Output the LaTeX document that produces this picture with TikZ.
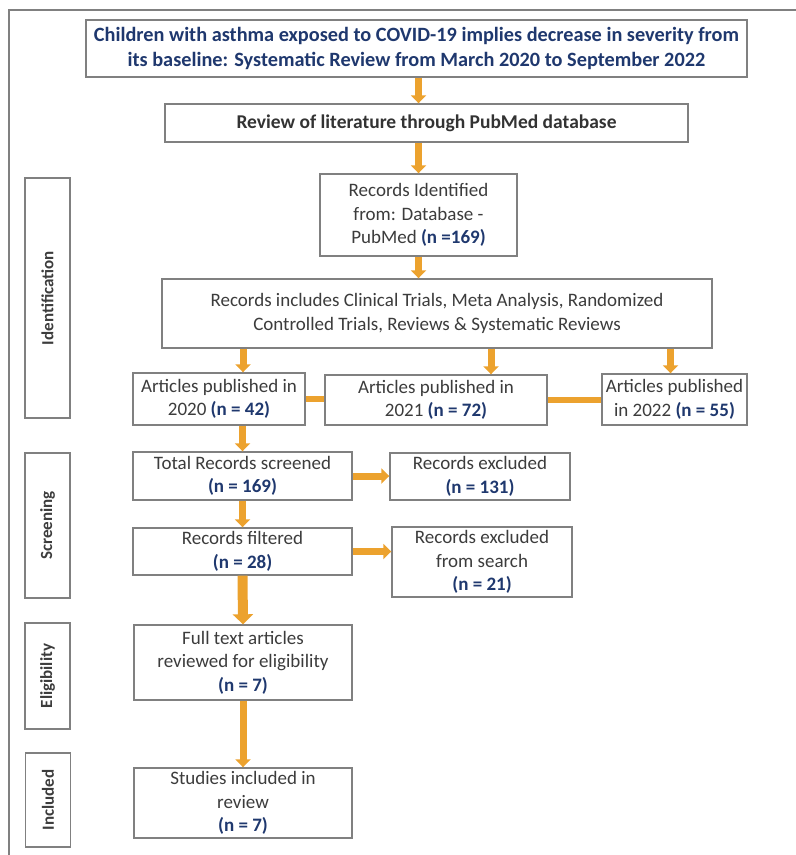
\documentclass[tikz,border=0pt]{standalone}
\usepackage{fontspec}
\setmainfont{Carlito}
\usetikzlibrary{arrows.meta}
\definecolor{arrorange}{RGB}{236,162,46}
\definecolor{boxgray}{RGB}{128,128,128}
\definecolor{txtgray}{RGB}{60,60,60}
\definecolor{nblue}{RGB}{31,56,110}
\newcommand{\nval}[1]{\textcolor{nblue}{\textbf{#1}}}

\begin{document}
\begin{tikzpicture}[
    x=1pt, y=-1pt,
    font=\fontsize{19}{23.5}\selectfont,
    box/.style={draw=boxgray, line width=1.4pt, fill=white, align=center, text=txtgray, inner sep=2pt},
    headbox/.style={box, font=\fontsize{19.5}{25}\selectfont\bfseries},
    phase/.style={draw=boxgray, line width=1.4pt, rotate=90, minimum height=45pt,
        font=\fontsize{17}{18}\selectfont\bfseries, text=txtgray},
    arr/.style={draw=arrorange, line width=7pt, -{Triangle[width=15pt,length=8pt]}},
    bigarr/.style={draw=arrorange, line width=10pt, -{Triangle[width=20pt,length=10pt]}},
    link/.style={draw=arrorange, line width=6pt}
]
\useasboundingbox (0,0) rectangle (796,855);

% Frame
\draw[boxgray, line width=2pt] (796,10) -- (9,10) -- (9,855);

% Phases
\node[phase, minimum width=240pt] (pid) at (47.5,298) {Identification};
\node[phase, minimum width=145pt] (psc) at (47.5,525.5) {Screening};
\node[phase, minimum width=106pt] (pel) at (47.5,676) {Eligibility};
\node[phase, minimum width=94pt] (pin) at (48,800) {Included};

% Top of the flow
\node[headbox, text=nblue, minimum width=661pt, minimum height=57pt,
      font=\fontsize{20.3}{25}\selectfont\bfseries] (title) at (416.5,48.5)
    {Children with asthma exposed to COVID-19 implies decrease in severity from\\
     its baseline: Systematic Review from March 2020 to September 2022};
\node[headbox, text=black!80, minimum width=523pt, minimum height=38pt] (review) at (426.5,123)
    {Review of literature through PubMed database};
\node[box, minimum width=197pt, minimum height=82pt] (ident) at (418.5,215)
    {Records Identified\\ from: Database -\\ PubMed \nval{(n =169)}};
\node[box, minimum width=550pt, minimum height=69pt] (incl) at (437,313.5)
    {Records includes Clinical Trials, Meta Analysis, Randomized\\
     Controlled Trials, Reviews \& Systematic Reviews};

% Articles per year
\node[box, minimum width=172pt, minimum height=52pt] (y2020) at (219,399)
    {Articles published in\\ 2020 \nval{(n = 42)}};
\node[box, minimum width=222pt, minimum height=50pt] (y2021) at (436,400)
    {Articles published in\\ 2021 \nval{(n = 72)}};
\node[box, minimum width=145pt, minimum height=51pt] (y2022) at (674.5,399.5)
    {Articles published\\ in 2022 \nval{(n = 55)}};

% Screening
\node[box, minimum width=219pt, minimum height=48pt] (screened) at (242.5,476)
    {Total Records screened\\ \nval{(n = 169)}};
\node[box, minimum width=180pt, minimum height=47pt] (excl1) at (480,476.5)
    {Records excluded\\ \nval{(n = 131)}};
\node[box, minimum width=219pt, minimum height=47pt] (filtered) at (242.5,551.5)
    {Records filtered\\ \nval{(n = 28)}};
\node[box, minimum width=180pt, minimum height=70pt] (excl2) at (482,562)
    {Records excluded\\ from search\\ \nval{(n = 21)}};

% Eligibility and inclusion
\node[box, minimum width=218pt, minimum height=75pt] (fulltext) at (243,662.5)
    {Full text articles\\ reviewed for eligibility\\ \nval{(n = 7)}};
\node[box, minimum width=218pt, minimum height=70pt] (studies) at (243,803)
    {Studies included in\\ review\\ \nval{(n = 7)}};

% Arrows
\draw[arr] ([xshift=2]title.south) -- ([xshift=2]title.south |- review.north);
\draw[arr] (review.south -| ident.north) -- (ident.north);
\draw[arr] (ident.south) -- (ident.south |- incl.north);
\draw[arr] ([xshift=24]y2020.north |- incl.south) -- ([xshift=24]y2020.north);
\draw[arr] ([xshift=55]y2021.north |- incl.south) -- ([xshift=55]y2021.north);
\draw[arr] ([xshift=-4]y2022.north |- incl.south) -- ([xshift=-4]y2022.north);
\draw[link] (y2020.east) -- (y2021.west |- y2020.east);
\draw[link] (y2021.east) -- (y2022.west |- y2021.east);
\draw[arr] (y2020.south -| screened.north) -- (screened.north);
\draw[arr] (screened.east) -- (excl1.west |- screened.east);
\draw[arr] (screened.south) -- (filtered.north);
\draw[arr] (filtered.east) -- (excl2.west |- filtered.east);
\draw[bigarr] (filtered.south) -- (fulltext.north);
\draw[arr] (fulltext.south) -- (studies.north);

\end{tikzpicture}
\end{document}
